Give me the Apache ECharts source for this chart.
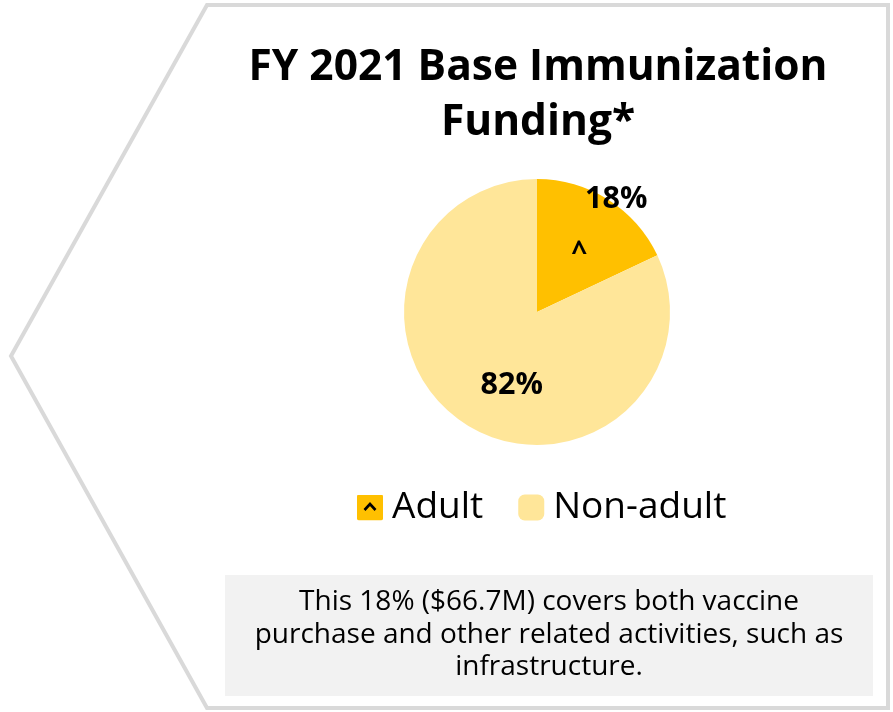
<!DOCTYPE html>
<html>
<head>
<meta charset="utf-8">
<script src="https://cdn.jsdelivr.net/npm/echarts@6/dist/echarts.min.js"></script>
<style>
  html, body { margin: 0; padding: 0; background: #ffffff; }
  #chart { width: 893px; height: 712px; }
</style>
</head>
<body>
<div id="chart"></div>
<script>
// Funding split (percent of base immunization funding)
const categories = ['Adult', 'Non-adult'];
const shares = [18, 82];
const sliceColors = ['#FFC000', '#FFE699'];
const titleText = 'FY 2021 Base Immunization\nFunding*';
const noteLines = [
  'This 18% ($66.7M) covers both vaccine',
  'purchase and other related activities, such as',
  'infrastructure.'
];

const FONT = '"Open Sans", "Noto Sans", sans-serif';

// Legend swatch for the adult slice: gold square with a caret mark
const caretIcon = 'image://data:image/svg+xml;charset=utf-8,' + encodeURIComponent(
  '<svg xmlns="http://www.w3.org/2000/svg" width="26" height="26" viewBox="0 0 26 26">' +
  '<rect x="0" y="0" width="26" height="26" rx="2" ry="2" fill="#FFC000"/>' +
  '<polyline points="7.5,15.5 13,9.5 18.5,15.5" fill="none" stroke="#000" stroke-width="2.6" stroke-linejoin="miter"/>' +
  '</svg>'
);

const pieData = categories.map((name, i) => ({
  name: name,
  value: shares[i],
  itemStyle: { color: sliceColors[i] }
}));

const chart = echarts.init(document.getElementById('chart'), null, { renderer: 'canvas' });

chart.setOption({
  backgroundColor: '#ffffff',
  animation: false,
  title: {
    text: titleText,
    left: 533,
    textAlign: 'center',
    top: 35,
    textStyle: {
      fontFamily: FONT,
      fontWeight: 'bold',
      fontSize: 42.5,
      lineHeight: 55,
      color: '#000000'
    }
  },
  legend: {
    data: [
      { name: categories[0], icon: caretIcon },
      { name: categories[1], icon: 'roundRect' }
    ],
    left: 352,
    top: 484,
    itemWidth: 26,
    itemHeight: 26,
    itemGap: 35,
    selectedMode: false,
    textStyle: {
      fontFamily: FONT,
      fontSize: 37,
      color: '#000000',
      padding: [0, 0, 0, 4]
    }
  },
  graphic: [
    {
      type: 'polygon',
      z: -10,
      shape: { points: [[207, 5], [888, 5], [888, 708], [207, 708], [11, 356]] },
      style: { fill: '#ffffff', stroke: '#D9D9D9', lineWidth: 4 }
    },
    {
      type: 'rect',
      z: -5,
      shape: { x: 225, y: 575, width: 648, height: 121 },
      style: { fill: '#F2F2F2' }
    },
    {
      type: 'text',
      z: 5,
      x: 549,
      y: 586,
      style: {
        text: noteLines.join('\n'),
        align: 'center',
        verticalAlign: 'top',
        fontFamily: FONT,
        fontSize: 28,
        lineHeight: 32.5,
        fill: '#000000'
      }
    }
  ],
  series: [
    {
      type: 'pie',
      center: [537, 312],
      radius: [0, 133],
      startAngle: 90,
      clockwise: true,
      silent: true,
      label: {
        show: true,
        position: 'inside',
        formatter: '{c}%',
        fontFamily: FONT,
        fontWeight: 'bold',
        fontSize: 30.5,
        color: '#000000'
      },
      labelLine: { show: false },
      data: pieData.map((d, i) => Object.assign({}, d, {
        label: { offset: i === 0 ? [42, -54] : [12, 15] }
      }))
    },
    {
      // caret marker drawn inside the adult slice
      type: 'pie',
      center: [537, 312],
      radius: [0, 133],
      startAngle: 90,
      clockwise: true,
      silent: true,
      z: 3,
      itemStyle: { color: 'rgba(0,0,0,0)' },
      label: {
        show: true,
        position: 'inside',
        formatter: p => (p.dataIndex === 0 ? '^' : ''),
        fontFamily: FONT,
        fontWeight: 'bold',
        fontSize: 28,
        color: '#000000',
        offset: [5, 0]
      },
      labelLine: { show: false },
      data: categories.map((name, i) => ({ name: name, value: shares[i] }))
    }
  ]
});
</script>
</body>
</html>
